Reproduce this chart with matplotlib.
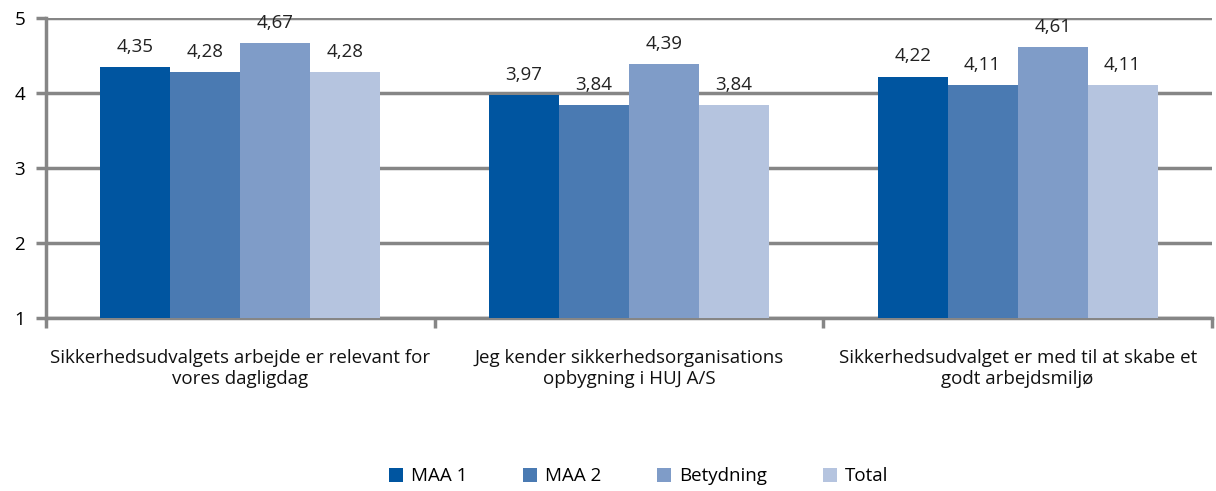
import numpy as np
import matplotlib.pyplot as plt

categories = [
    "Sikkerhedsudvalgets arbejde er relevant for\nvores dagligdag",
    "Jeg kender sikkerhedsorganisations\nopbygning i HUJ A/S",
    "Sikkerhedsudvalget er med til at skabe et\ngodt arbejdsmiljø",
]
series_names = ["MAA 1", "MAA 2", "Betydning", "Total"]
maa1 = [4.35, 3.97, 4.22]
maa2 = [4.28, 3.84, 4.11]
betydning = [4.67, 4.39, 4.61]
total = [4.28, 3.84, 4.11]
colors = ["#0055A0", "#4A7AB2", "#7F9CC8", "#B5C4DF"]

plt.rcParams['font.family'] = ['Open Sans', 'DejaVu Sans']
grid_col = "#868686"
fs = 13.5

fig = plt.figure(figsize=(12.16, 4.91), dpi=100)
ax = fig.add_axes([0.0378, 0.3523, 0.9589, 0.611])

x = np.arange(len(categories))
w = 0.18
for i, (name, vals) in enumerate(zip(series_names, [maa1, maa2, betydning, total])):
    pos = x + (i - 1.5) * w
    ax.bar(pos, [v - 1 for v in vals], w, bottom=1, color=colors[i],
           label=name, zorder=3, linewidth=0)
    for p, v in zip(pos, vals):
        ax.annotate(f"{v:.2f}".replace(".", ","), (p, v), xytext=(0, 8),
                    textcoords="offset points", ha="center", va="bottom",
                    fontsize=fs, color="#222222", zorder=4)

ax.set_xlim(-0.5, 2.5)
ax.set_ylim(1, 5)
ax.set_yticks([1, 2, 3, 4, 5])
ax.yaxis.grid(True, color=grid_col, linewidth=2.5, zorder=0)
ax.set_xticks([-0.5, 0.5, 1.5, 2.5])
ax.set_xticklabels([])
ax.set_xticks(x, minor=True)
ax.set_xticklabels(categories, minor=True, fontsize=fs, color="#111111",
                   linespacing=1.25)
ax.tick_params(axis='x', which='minor', length=0, pad=22)
ax.tick_params(axis='x', which='major', length=7, width=2.5, color=grid_col, direction='out')
ax.tick_params(axis='y', length=7, width=2.5, color=grid_col, labelsize=fs, pad=8)
for s in ['top', 'right']:
    ax.spines[s].set_visible(False)
for s in ['left', 'bottom']:
    ax.spines[s].set_color(grid_col)
    ax.spines[s].set_linewidth(2.5)

fig.legend(loc="center", bbox_to_anchor=(0.525, 0.03), ncol=4, frameon=False,
           fontsize=fs, handlelength=0.75, handleheight=0.75, columnspacing=3.0,
           handletextpad=0.4)

fig.savefig("out.png", dpi=100)
